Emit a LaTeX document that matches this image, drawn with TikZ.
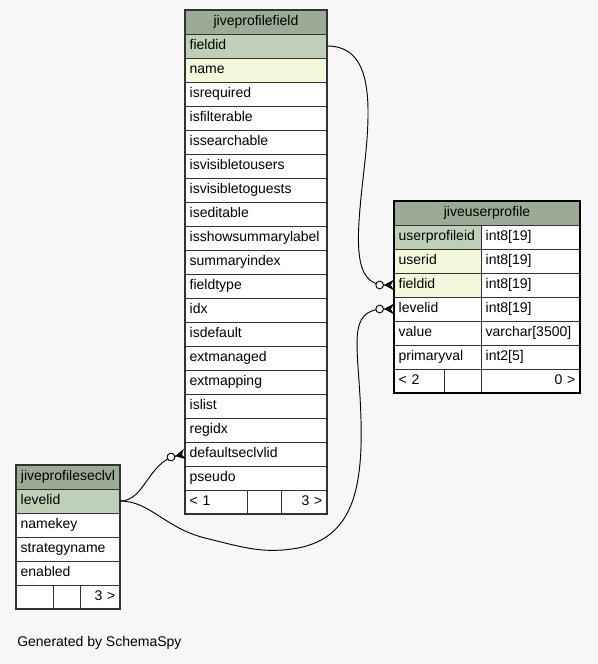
\documentclass[tikz,border=0pt]{standalone}
\usepackage{fontspec}
\setmainfont{Liberation Sans}
\usetikzlibrary{arrows.meta}
\definecolor{bggray}{HTML}{F7F7F7}
\definecolor{hdrgreen}{HTML}{9BAB96}
\definecolor{pkgreen}{HTML}{BED1B8}
\definecolor{fkyellow}{HTML}{F4F7DA}
\definecolor{cellline}{HTML}{333333}

\begin{document}
\begin{tikzpicture}[
  x=0.75pt, y=-0.75pt,
  cell/.style={draw=cellline, line width=0.6pt, fill=white, anchor=north west, outer sep=0pt,
     minimum height=18pt, inner xsep=3.5pt, inner ysep=0pt, text height=7.6pt, text depth=2.2pt,
     align=left, font=\fontsize{10.5}{12}\selectfont},
  hdr/.style={cell, fill=hdrgreen, align=center},
  pk/.style={cell, fill=pkgreen},
  fk/.style={cell, fill=fkyellow},
  rgt/.style={cell, align=right},
  frame/.style={draw=cellline, line width=1.2pt},
  rel/.style={-{Circle[open,length=6.5pt,fill=bggray]Stealth[reversed,length=7.5pt,width=8pt]}, line width=0.7pt}
]
\fill[bggray] (0,0) rectangle (597,664);
\useasboundingbox (0,0) rectangle (597,664);

% jiveprofilefield
\node[hdr, text width=99.5pt] (pftitle) at (185,10) {jiveprofilefield};
\node[pk, text width=99.5pt] (pffieldid) at (185,34) {fieldid};
\node[fk, text width=99.5pt] (pfname) at (185,58) {name};
\node[cell, text width=99.5pt] (pfisrequired) at (185,82) {isrequired};
\node[cell, text width=99.5pt] (pfisfilterable) at (185,106) {isfilterable};
\node[cell, text width=99.5pt] (pfissearchable) at (185,130) {issearchable};
\node[cell, text width=99.5pt] (pfisvisibletousers) at (185,154) {isvisibletousers};
\node[cell, text width=99.5pt] (pfisvisibletoguests) at (185,178) {isvisibletoguests};
\node[cell, text width=99.5pt] (pfiseditable) at (185,202) {iseditable};
\node[cell, text width=99.5pt] (pfisshowsummarylabel) at (185,226) {isshowsummarylabel};
\node[cell, text width=99.5pt] (pfsummaryindex) at (185,250) {summaryindex};
\node[cell, text width=99.5pt] (pffieldtype) at (185,274) {fieldtype};
\node[cell, text width=99.5pt] (pfidx) at (185,298) {idx};
\node[cell, text width=99.5pt] (pfisdefault) at (185,322) {isdefault};
\node[cell, text width=99.5pt] (pfextmanaged) at (185,346) {extmanaged};
\node[cell, text width=99.5pt] (pfextmapping) at (185,370) {extmapping};
\node[cell, text width=99.5pt] (pfislist) at (185,394) {islist};
\node[cell, text width=99.5pt] (pfregidx) at (185,418) {regidx};
\node[cell, text width=99.5pt] (pfdefaultseclvlid) at (185,442) {defaultseclvlid};
\node[cell, text width=99.5pt] (pfpseudo) at (185,466) {pseudo};
\node[cell, text width=39.5pt] (pffoot1) at (185,490) {< 1};
\node[cell, text width=18.5pt] (pffoot2) at (247,490) {};
\node[rgt, text width=27.5pt] (pffoot3) at (281,490) {3 >};
\draw[frame] (pftitle.north west) rectangle (pffoot3.south east);

% jiveuserprofile
\node[hdr, text width=132.5pt] (uptitle) at (394,201) {jiveuserprofile};
\node[pk, text width=58.25pt] (upuserprofileid) at (394,225) {userprofileid};
\node[cell, text width=67.25pt] (upuserprofileidtype) at (481,225) {int8[19]};
\node[fk, text width=58.25pt] (upuserid) at (394,249) {userid};
\node[cell, text width=67.25pt] (upuseridtype) at (481,249) {int8[19]};
\node[fk, text width=58.25pt] (upfieldid) at (394,273) {fieldid};
\node[cell, text width=67.25pt] (upfieldidtype) at (481,273) {int8[19]};
\node[cell, text width=58.25pt] (uplevelid) at (394,297) {levelid};
\node[cell, text width=67.25pt] (uplevelidtype) at (481,297) {int8[19]};
\node[cell, text width=58.25pt] (upvalue) at (394,321) {value};
\node[cell, text width=67.25pt] (upvaluetype) at (481,321) {varchar[3500]};
\node[cell, text width=58.25pt] (upprimaryval) at (394,345) {primaryval};
\node[cell, text width=67.25pt] (upprimaryvaltype) at (481,345) {int2[5]};
\node[cell, text width=30.5pt] (upfoot1) at (394,369) {< 2};
\node[cell, text width=20.75pt] (upfoot2) at (444,369) {};
\node[rgt, text width=67.25pt] (upfoot3) at (481,369) {0 >};
\draw[frame, draw=black, line width=2.2pt] (uptitle.north west) rectangle (upfoot3.south east);

% jiveprofileseclvl
\node[hdr, text width=71pt] (sltitle) at (16,465) {jiveprofileseclvl};
\node[pk, text width=71pt] (sllevelid) at (16,489) {levelid};
\node[cell, text width=71pt] (slnamekey) at (16,513) {namekey};
\node[cell, text width=71pt] (slstrategyname) at (16,537) {strategyname};
\node[cell, text width=71pt] (slenabled) at (16,561) {enabled};
\node[cell, text width=20.75pt] (slfoot1) at (16,585) {};
\node[cell, text width=13.25pt] (slfoot2) at (53,585) {};
\node[rgt, text width=23pt] (slfoot3) at (80,585) {3 >};
\draw[frame] (sltitle.north west) rectangle (slfoot3.south east);

% relations
\draw[rel] (pffieldid.east) .. controls (372,46) and (372,100) .. (364,170)
  .. controls (356,240) and (352,285) .. (upfieldid.west);
\draw[rel] (sllevelid.east) .. controls (145,501) and (148,462) .. (pfdefaultseclvlid.west);
\draw[rel] (sllevelid.east) .. controls (150,501) and (165,528) .. (205,538)
  .. controls (245,548) and (262,553) .. (292,549)
  .. controls (350,541) and (363,495) .. (361,420)
  .. controls (359,345) and (345,309) .. (uplevelid.west);

\node[anchor=west, inner xsep=0pt, font=\fontsize{10.5}{12}\selectfont] (credit) at (17,643) {Generated by SchemaSpy};
\end{tikzpicture}
\end{document}
